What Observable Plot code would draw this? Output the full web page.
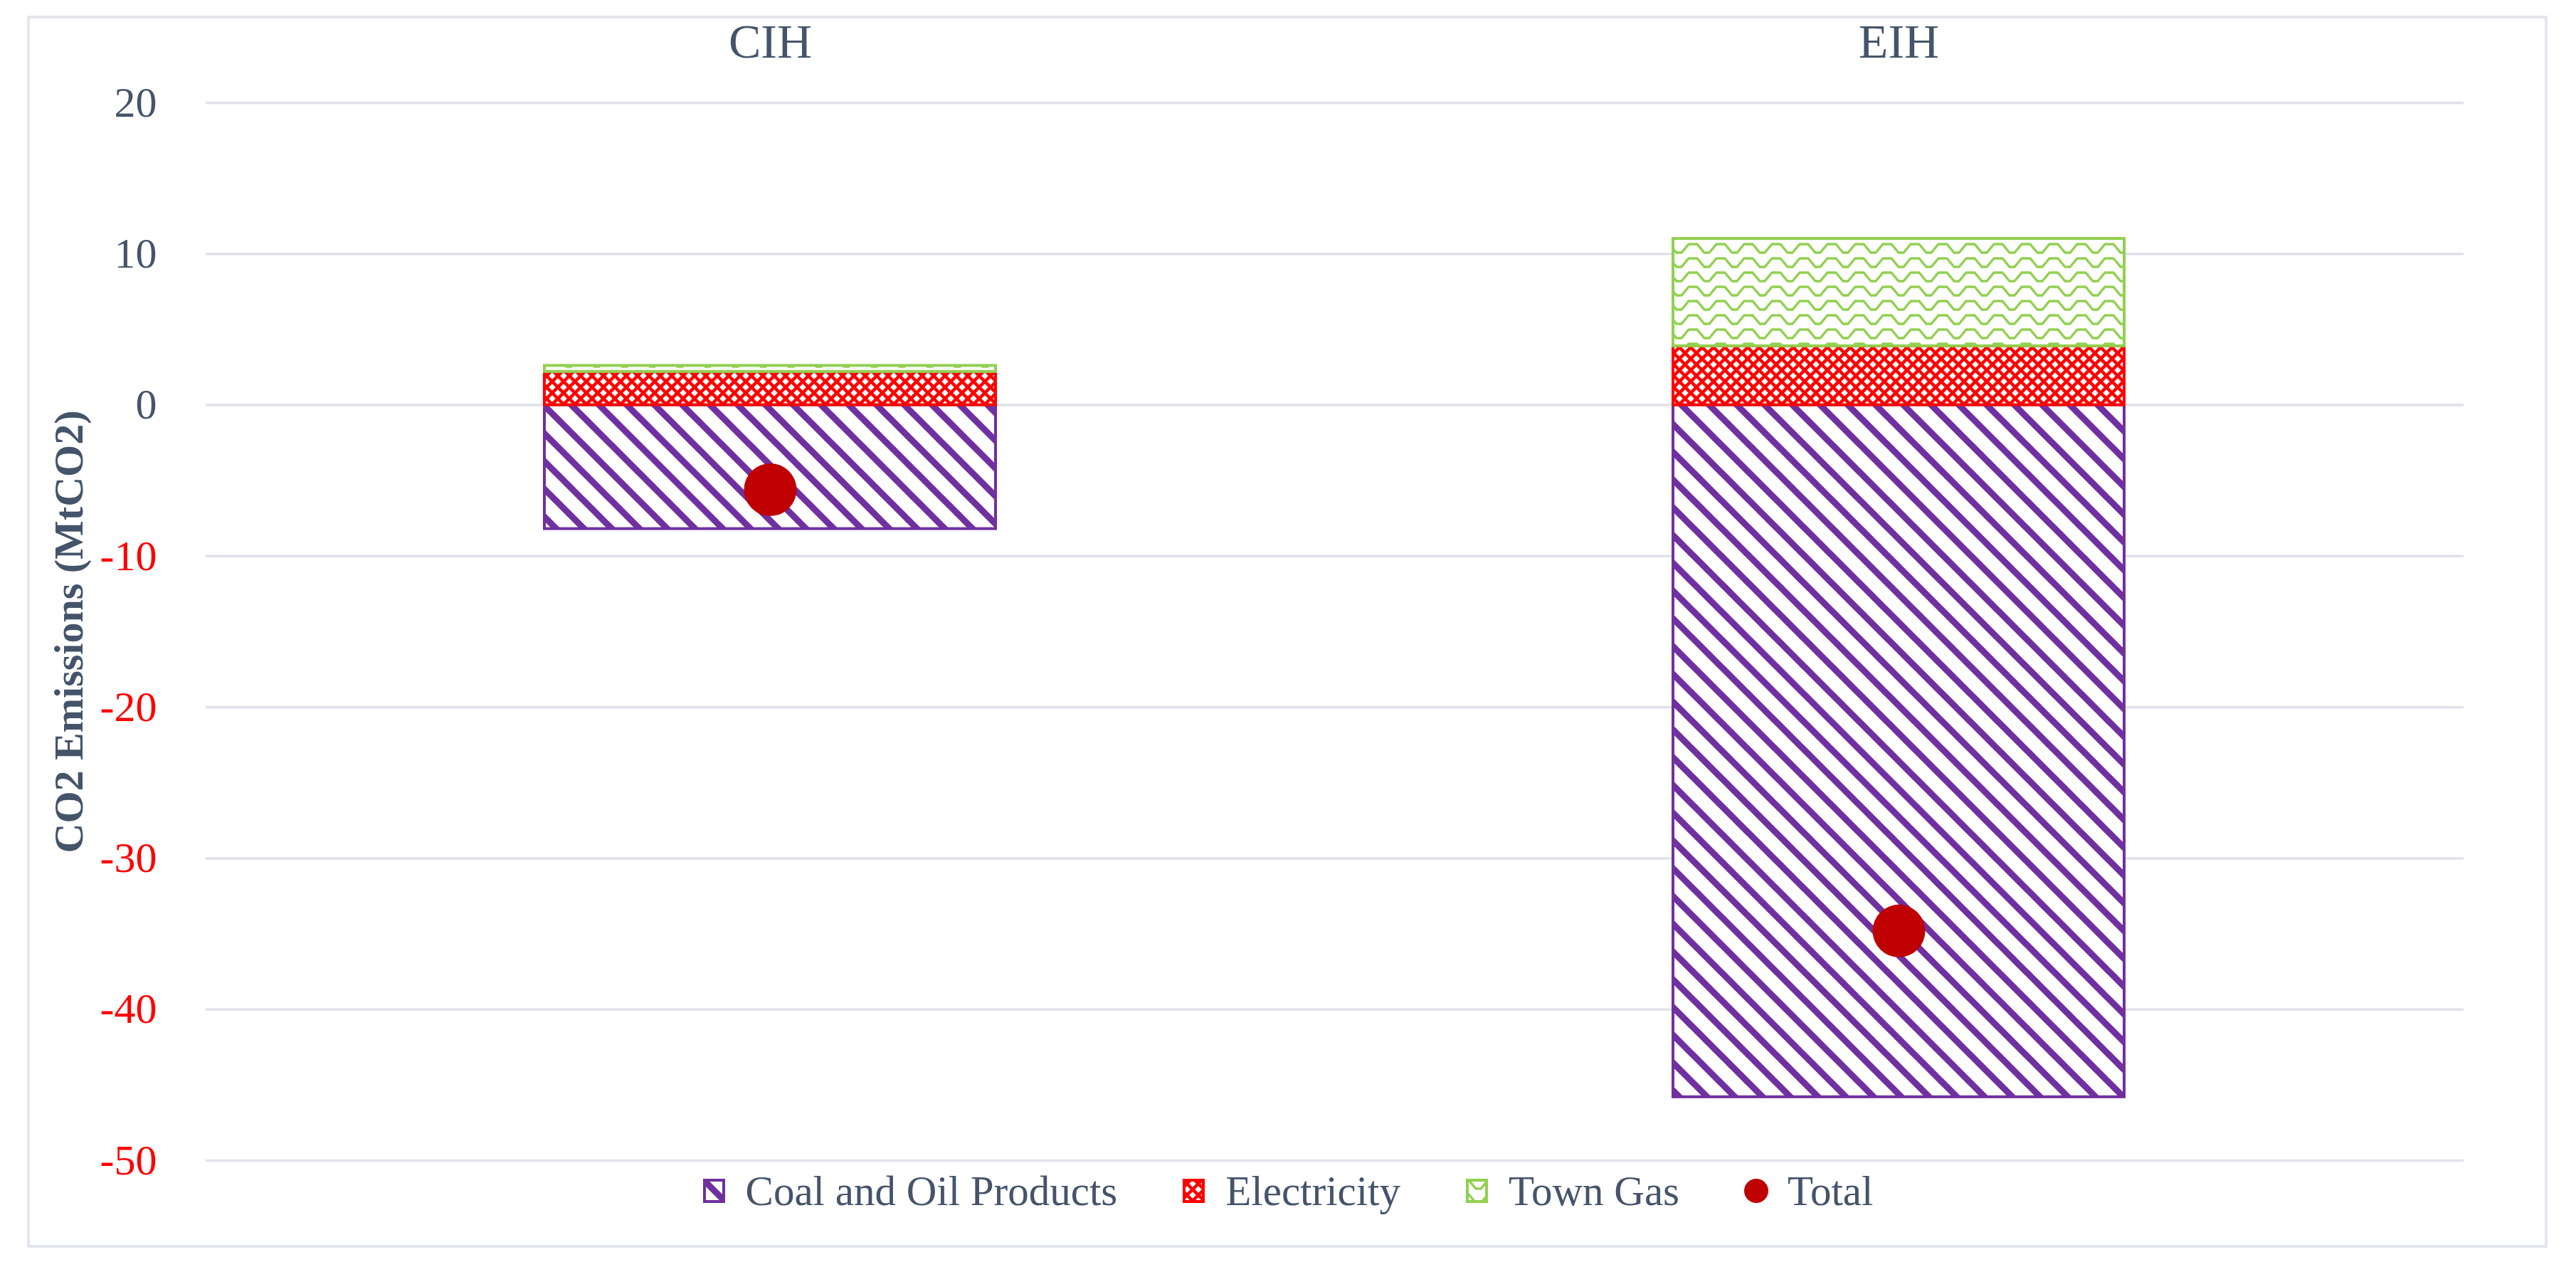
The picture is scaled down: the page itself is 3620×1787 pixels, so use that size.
<!DOCTYPE html>
<html>
<head>
<meta charset="utf-8">
<script src="https://cdn.jsdelivr.net/npm/d3@7"></script>
<script src="https://cdn.jsdelivr.net/npm/@observablehq/plot@0.6"></script>
<style>
  html, body { margin: 0; padding: 0; background: #ffffff; }
  body { width: 3620px; height: 1787px; position: relative; overflow: hidden;
         font-family: 'Liberation Serif', 'Times New Roman', serif; }
  #frame { position: absolute; left: 38px; top: 22px; width: 3542px; height: 1731px;
           box-sizing: border-box; border: 4px solid #e3e6ed; }
  #chart { position: absolute; left: 0; top: 0; }
  #legend { position: absolute; left: 38px; width: 3542px; top: 1643px; height: 60px;
            display: flex; justify-content: center; align-items: center;
            color: #44546A; font-size: 59px; line-height: 60px; }
  .item { display: flex; align-items: center; white-space: nowrap; }
  .item + .item { margin-left: 90px; }
  .sw { display: block; margin-right: 26px; }
</style>
</head>
<body>
<svg width="0" height="0" style="position:absolute">
  <defs>
    <pattern id="pat-coal" patternUnits="userSpaceOnUse" width="39" height="39">
      <rect width="39" height="39" fill="#ffffff"/>
      <path d="M-5,-5L44,44M-44,-5L5,44M34,-5L83,44" stroke="#7030A0" stroke-width="9"/>
    </pattern>
    <pattern id="pat-elec" patternUnits="userSpaceOnUse" width="16" height="16">
      <rect width="16" height="16" fill="#ffffff"/>
      <path d="M-4,-4L20,20M-20,-4L4,20M12,-4L36,20M20,-4L-4,20M4,-4L-20,20M36,-4L12,20" stroke="#FF0000" stroke-width="4.5"/>
    </pattern>
    <pattern id="pat-gas" patternUnits="userSpaceOnUse" width="39" height="20">
      <rect width="39" height="20" fill="#ffffff"/>
      <path d="M0,3L6,3L16,15L23,15L33,3L39,3" fill="none" stroke="#92D050" stroke-width="3.5" stroke-linejoin="round"/>
    </pattern>
  </defs>
</svg>
<div id="frame"></div>
<div id="chart"></div>
<div id="legend"></div>
<script>
// ---- data ----
const categories = ["CIH", "EIH"];
const seriesNames = ["Coal and Oil Products", "Electricity", "Town Gas"];
const coalOil = [-8.2, -45.8];
const electricity = [2.2, 3.9];
const townGas = [0.4, 7.1];
const totalName = "Total";
const total = [-5.6, -34.8];
const yTicks = [20, 10, 0, -10, -20, -30, -40, -50];
const yTitle = "CO2 Emissions (MtCO2)";

// ---- styles ----
const fillOf = {
  "Coal and Oil Products": "url(#pat-coal)",
  "Electricity": "url(#pat-elec)",
  "Town Gas": "url(#pat-gas)"
};
const strokeOf = {
  "Coal and Oil Products": "#7030A0",
  "Electricity": "#FF0000",
  "Town Gas": "#92D050"
};
const totalColor = "#C00000";

// ---- tables ----
const seriesValues = [coalOil, electricity, townGas];
const rows = categories.flatMap((c, i) =>
  seriesNames.map((s, j) => ({category: c, series: s, value: seriesValues[j][i]})));
const totalRows = categories.map((c, i) => ({category: c, value: total[i]}));
const fmt = d => String(d);

const chart = Plot.plot({
  width: 3620,
  height: 1650,
  marginLeft: 289,
  marginRight: 158,
  marginTop: 144,
  marginBottom: 20,
  style: {
    background: "transparent",
    color: "#44546A",
    fontFamily: "'Liberation Serif', 'Times New Roman', serif",
    fontSize: "60px",
    overflow: "visible"
  },
  x: {domain: categories, paddingInner: 0.6, paddingOuter: 0.3, axis: null},
  y: {domain: [-50, 20], axis: null},
  color: {type: "identity"},
  marks: [
    Plot.gridY(yTicks, {stroke: "#dfe2e9", strokeOpacity: 1, strokeWidth: 3.5}),
    Plot.barY(rows, Plot.stackY({
      x: "category", y: "value",
      fill: d => fillOf[d.series],
      stroke: d => strokeOf[d.series],
      strokeWidth: 4
    })),
    Plot.dot(totalRows, {x: "category", y: "value", r: 37, fill: totalColor}),
    Plot.axisX({anchor: "top", tickSize: 0, tickPadding: 64, fontSize: 68, label: null}),
    Plot.axisY({ticks: yTicks.filter(t => t >= 0), tickFormat: fmt, tickSize: 0, tickPadding: 69, fontSize: 60, label: null}),
    Plot.axisY({ticks: yTicks.filter(t => t < 0), tickFormat: fmt, tickSize: 0, tickPadding: 69, fontSize: 60, label: null, color: "#FF0000"}),
    Plot.text([yTitle], {
      text: d => d, frameAnchor: "left", dx: -192, rotate: -90,
      fontSize: 58, fontWeight: "bold", textAnchor: "middle", lineAnchor: "middle"
    })
  ]
});
document.getElementById("chart").appendChild(chart);

// ---- legend ----
const legend = document.getElementById("legend");
const NS = "http://www.w3.org/2000/svg";
function addItem(name, draw) {
  const item = document.createElement("div");
  item.className = "item";
  const sw = document.createElementNS(NS, "svg");
  sw.setAttribute("class", "sw");
  sw.setAttribute("width", "36");
  sw.setAttribute("height", "36");
  draw(sw);
  const label = document.createElement("span");
  label.textContent = name;
  item.appendChild(sw);
  item.appendChild(label);
  legend.appendChild(item);
}
seriesNames.forEach(s => addItem(s, sw => {
  const r = document.createElementNS(NS, "rect");
  r.setAttribute("x", "4"); r.setAttribute("y", "3");
  r.setAttribute("width", "27"); r.setAttribute("height", "30");
  r.setAttribute("fill", fillOf[s]);
  r.setAttribute("stroke", strokeOf[s]);
  r.setAttribute("stroke-width", "4");
  sw.appendChild(r);
}));
addItem(totalName, sw => {
  const c = document.createElementNS(NS, "circle");
  c.setAttribute("cx", "18"); c.setAttribute("cy", "18"); c.setAttribute("r", "17");
  c.setAttribute("fill", totalColor);
  sw.appendChild(c);
});
</script>
</body>
</html>
